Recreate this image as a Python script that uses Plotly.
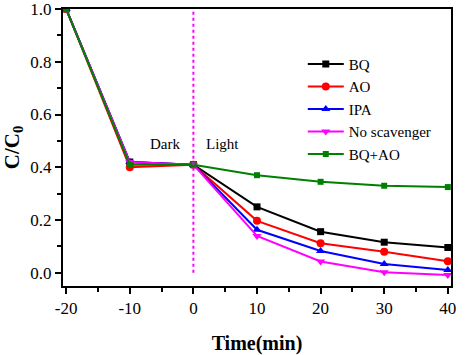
import plotly.graph_objects as go

time = [-20, -10, 0, 10, 20, 30, 40]
bq = [1.0, 0.42, 0.41, 0.25, 0.156, 0.116, 0.096]
ao = [1.0, 0.40, 0.41, 0.197, 0.112, 0.08, 0.044]
ipa = [1.0, 0.42, 0.41, 0.163, 0.083, 0.033, 0.011]
no_scav = [1.0, 0.42, 0.41, 0.14, 0.043, 0.002, -0.008]
bq_ao = [1.0, 0.41, 0.41, 0.37, 0.345, 0.33, 0.325]
x_ticks = [-20, -10, 0, 10, 20, 30, 40]
x_tick_labels = ["-20", "-10", "0", "10", "20", "30", "40"]
y_ticks = [0.0, 0.2, 0.4, 0.6, 0.8, 1.0]
y_tick_labels = ["0.0", "0.2", "0.4", "0.6", "0.8", "1.0"]

series = [
    ("BQ", bq, "#000000", "square", 7),
    ("AO", ao, "#ff0000", "circle", 8),
    ("IPA", ipa, "#0000ff", "triangle-up", 8),
    ("No scavenger", no_scav, "#ff00ff", "triangle-down", 8),
    ("BQ+AO", bq_ao, "#008000", "square", 6),
]

fig = go.Figure()
for name, vals, color, sym, ms in series:
    fig.add_trace(go.Scatter(
        x=time, y=vals, name=name, mode="lines+markers",
        line=dict(color=color, width=2),
        marker=dict(symbol=sym, size=ms, color=color),
    ))

fig.add_shape(type="line", x0=0, x1=0, y0=0.0, y1=1.0, xref="x", yref="y",
              line=dict(color="#ff00ff", width=2, dash="dot"))

fig.add_annotation(x=-4.4, y=0.489, text="Dark", showarrow=False,
                   font=dict(family="Liberation Serif", size=15, color="black"))
fig.add_annotation(x=4.6, y=0.489, text="Light", showarrow=False,
                   font=dict(family="Liberation Serif", size=15, color="black"))

axis_common = dict(
    showgrid=False, zeroline=False, showline=True, linecolor="black", linewidth=2,
    mirror=True, ticks="outside", ticklen=6, tickwidth=2, tickcolor="black",
    tickfont=dict(family="Liberation Serif", size=17, color="black"),
    automargin=False, ticklabeloverflow="allow",
)

fig.update_xaxes(
    range=[-20.5, 40.5], tickvals=x_ticks, ticktext=x_tick_labels,
    minor=dict(tickvals=[-15, -5, 5, 15, 25, 35], ticks="outside", ticklen=4, tickwidth=2, tickcolor="black"),
    title=dict(text="<b>Time(min)</b>", font=dict(family="Liberation Serif", size=20, color="black"), standoff=22),
    **axis_common,
)
fig.update_yaxes(
    range=[-0.05, 1.0], tickvals=y_ticks, ticktext=y_tick_labels,
    minor=dict(tickvals=[0.1, 0.3, 0.5, 0.7, 0.9], ticks="outside", ticklen=4, tickwidth=2, tickcolor="black"),
    title=dict(text="<b>C/C<sub>0</sub></b>", font=dict(family="Liberation Serif", size=21, color="black"), standoff=8),
    **axis_common,
)

fig.update_layout(
    width=474, height=355,
    margin=dict(l=63, r=23, t=9, b=69),
    paper_bgcolor="white", plot_bgcolor="white",
    showlegend=True,
    legend=dict(x=0.618, y=0.86, xanchor="left", yanchor="top", bgcolor="rgba(0,0,0,0)",
                font=dict(family="Liberation Serif", size=15, color="black"),
                tracegroupgap=0, itemwidth=36),
)

fig.write_html("out.html", config={"displayModeBar": False},
               post_script="document.body.style.margin='0';")
